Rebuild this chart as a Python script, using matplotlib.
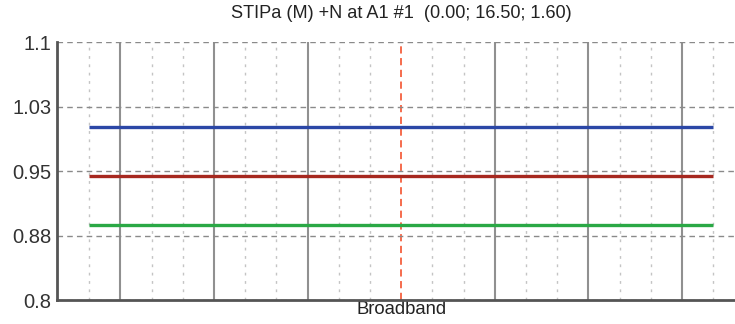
import numpy as np
import matplotlib.pyplot as plt

plt.rcParams['font.family'] = ['Liberation Sans', 'DejaVu Sans']

# band positions (1/3-octave style grid) and the broadband label in the middle
n_lines = 21
center_idx = 10
x_label = 'Broadband'

# constant broadband results for the three series
series_names = ['blue', 'red', 'green']
series_values = [1.001, 0.944, 0.887]
series_colors = ['#2b47a6', '#a6281f', '#2aa845']

y_ticks = [0.8, 0.875, 0.95, 1.025, 1.1]
y_tick_labels = ['0.8', '0.88', '0.95', '1.03', '1.1']

title = 'STIPa (M) +N at A1 #1  (0.00; 16.50; 1.60)'


def main():
    fig = plt.figure(figsize=(7.35, 3.24), dpi=100)
    ax = fig.add_axes([57 / 735, 24 / 324, 1 - 57 / 735, 258 / 324])

    xs = np.arange(n_lines)

    # vertical grid: solid every third line, dotted in between, red dashed at centre
    for i in xs:
        if i == center_idx:
            ax.axvline(i, color='#f5603f', linestyle=(0, (4, 2.5)), linewidth=1.3, zorder=1)
        elif i % 3 == 1:
            ax.axvline(i, color='#909090', linestyle='-', linewidth=1.5, zorder=1)
        else:
            ax.axvline(i, color='#c4c4c4', linestyle=(0, (2, 4)), linewidth=1.0, zorder=1)

    # horizontal dashed grid
    for y in y_ticks:
        ax.axhline(y, color='#8a8a8a', linestyle=(0, (4, 3)), linewidth=1.0, zorder=1)

    # data lines
    for name, v, c in zip(series_names, series_values, series_colors):
        ax.plot([xs[0], xs[-1]], [v, v], color=c, linewidth=2.4, solid_capstyle='butt', zorder=3)

    ax.set_xlim(-1.03, 20.7)
    ax.set_ylim(0.8, 1.1)
    ax.set_yticks(y_ticks)
    ax.set_yticklabels(y_tick_labels)
    ax.set_xticks([center_idx])
    ax.set_xticklabels([x_label])
    ax.tick_params(axis='y', length=0, pad=4, labelsize=14.5, labelcolor='#333333')
    ax.tick_params(axis='x', length=0, pad=1, labelsize=13.3, labelcolor='#222222')

    for side in ['top', 'right']:
        ax.spines[side].set_visible(False)
    ax.spines['left'].set_color('#555555')
    ax.spines['left'].set_linewidth(2.0)
    ax.spines['bottom'].set_color('#555555')
    ax.spines['bottom'].set_linewidth(2.0)

    fig.text(401 / 735, 1 - 14 / 324, title, ha='center', va='center',
             fontsize=13.1, color='#222222')

    plt.savefig('out.png', dpi=100)
    plt.close()


if __name__ == "__main__":
    main()
